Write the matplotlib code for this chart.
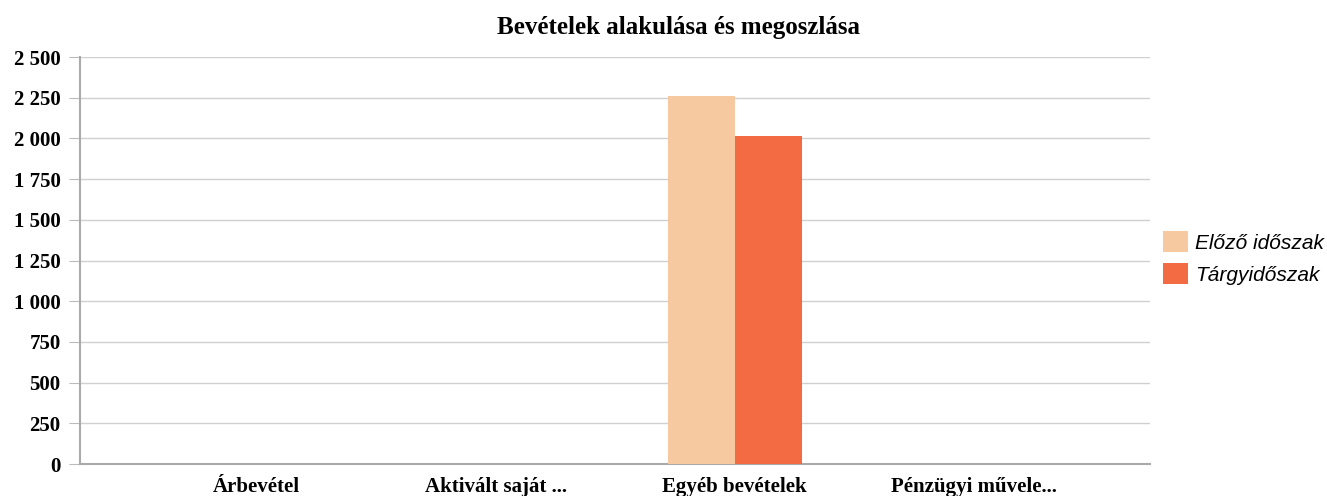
import numpy as np
import matplotlib.pyplot as plt

# Bevételek adatai (ezer Ft)
categories = ['Árbevétel', 'Aktivált saját ...', 'Egyéb bevételek', 'Pénzügyi művele...']
elozo = [0, 0, 2260, 0]
targy = [0, 0, 2015, 0]
series_names = ['Előző időszak', 'Tárgyidőszak']
yticks = [0, 250, 500, 750, 1000, 1250, 1500, 1750, 2000, 2250, 2500]

def fmt(v):
    return '{:,}'.format(v).replace(',', ' ')

fig = plt.figure(figsize=(13.27, 4.96), dpi=100)
ax = fig.add_axes([0.0603, 0.0645, 0.806, 0.8205])

x = np.arange(len(categories))
w = 0.28
ax.bar(x - w/2, elozo, w, color='#F6C9A0', label=series_names[0], zorder=3)
ax.bar(x + w/2, targy, w, color='#F36B42', label=series_names[1], zorder=3)

ax.set_xlim(-0.74, 3.736)
ax.set_ylim(0, 2500)
ax.set_yticks(yticks)
ax.set_yticklabels([fmt(v) for v in yticks], fontfamily='Liberation Serif',
                   fontweight='bold', fontsize=15)
ax.set_xticks(x)
ax.set_xticklabels(categories, fontfamily='Liberation Serif', fontweight='bold', fontsize=15)
ax.tick_params(axis='y', length=8, color='#bbbbbb', pad=6)
ax.tick_params(axis='x', length=0, pad=9)
ax.grid(axis='y', color='#d0d0d0', linewidth=1, zorder=0)

for s in ['top', 'right']:
    ax.spines[s].set_visible(False)
ax.spines['left'].set_color('#aaaaaa')
ax.spines['left'].set_linewidth(1.5)
ax.spines['bottom'].set_color('#aaaaaa')
ax.spines['bottom'].set_linewidth(1.5)

fig.text(0.511, 0.945, 'Bevételek alakulása és megoszlása', fontfamily='Liberation Serif',
         fontweight='bold', fontsize=18, ha='center', va='center')

handles, labels = ax.get_legend_handles_labels()
fig.legend(handles, labels, loc='center left', bbox_to_anchor=(1163/1327, 0.48), frameon=False,
           prop={'family': 'Liberation Sans', 'style': 'italic', 'size': 15},
           handlelength=1.2, handleheight=1.2, labelspacing=0.5, handletextpad=0.35,
           borderpad=0, borderaxespad=0)

fig.savefig('out.png', dpi=100)
